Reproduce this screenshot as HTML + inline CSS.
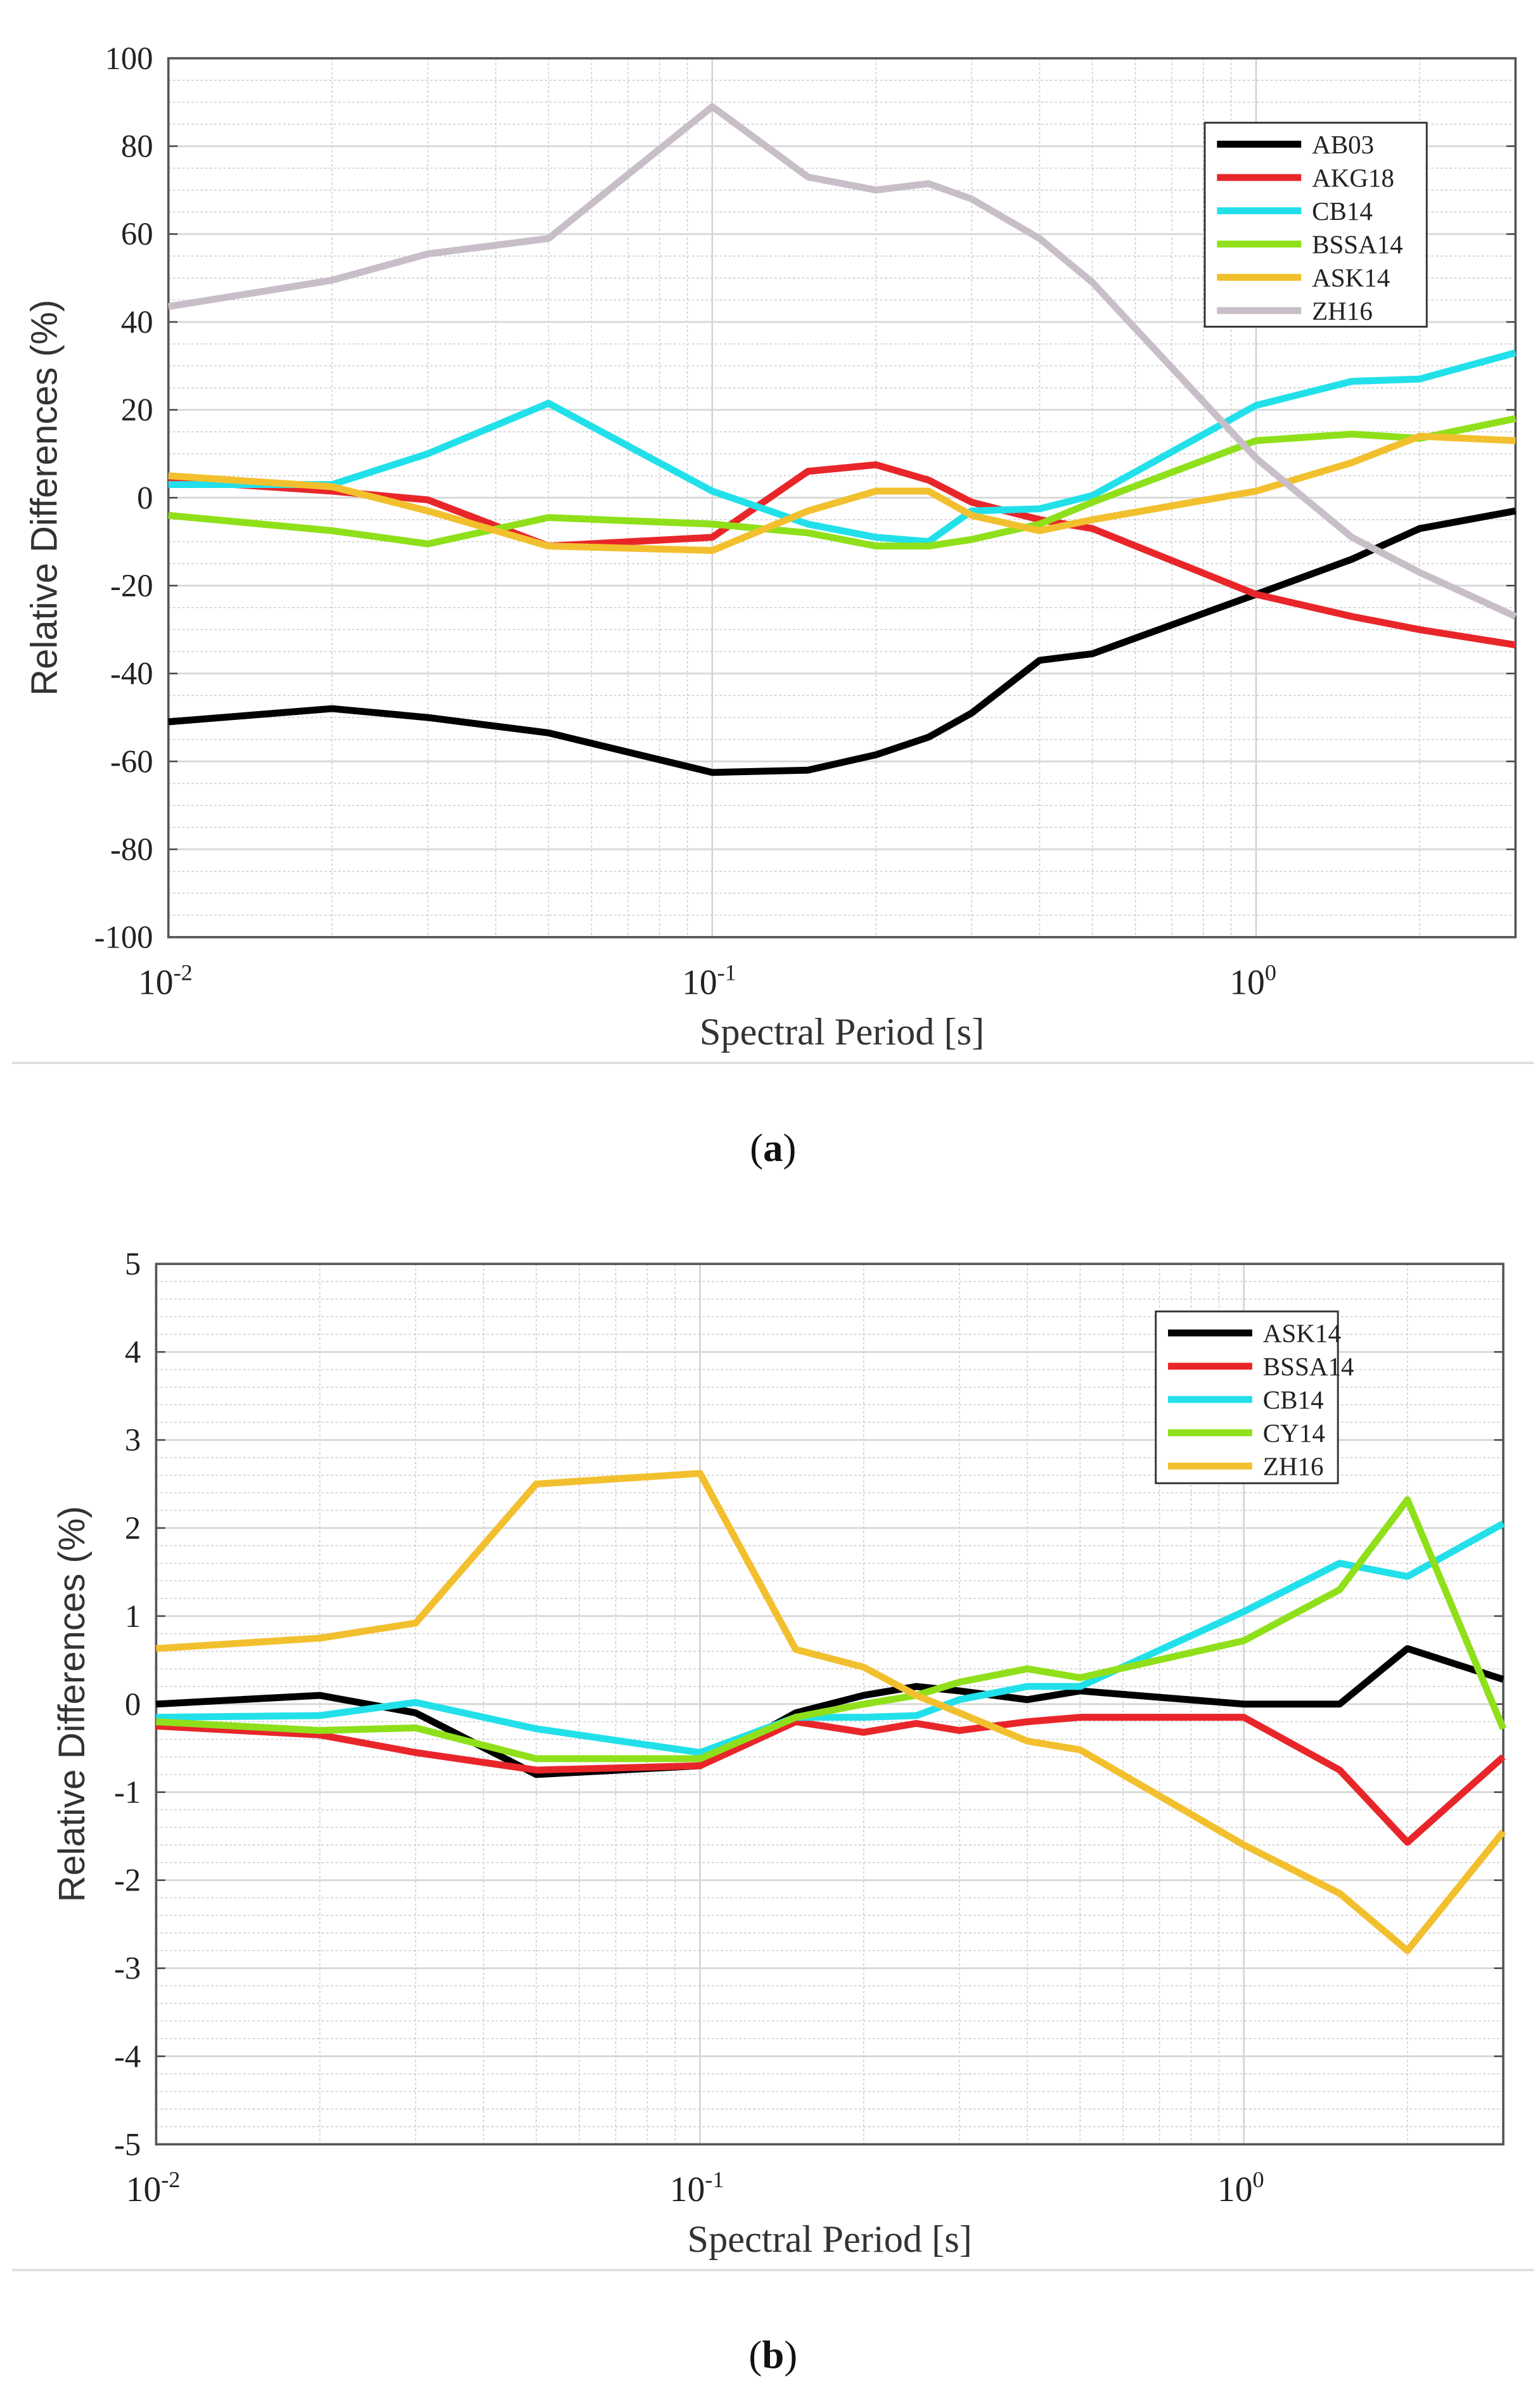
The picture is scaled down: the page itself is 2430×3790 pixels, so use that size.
<!DOCTYPE html>
<html><head><meta charset="utf-8"><style>
html,body{margin:0;padding:0;background:#fff}
svg{display:block}
</style></head><body>
<svg id="fig" width="2430" height="3790" viewBox="0 0 1006 1566" preserveAspectRatio="none" xmlns="http://www.w3.org/2000/svg"></svg>
<script>
const periods=[0.01,0.02,0.03,0.05,0.1,0.15,0.2,0.25,0.3,0.4,0.5,1,1.5,2,3];
const namesA=["AB03","AKG18","CB14","BSSA14","ASK14","ZH16"];
const ab03=[-51,-48,-50,-53.5,-62.5,-62,-58.5,-54.5,-49,-37,-35.5,-22,-14,-7,-3];
const akg18=[4,1.5,-0.5,-11,-9,6,7.5,4,-1,-5,-7,-22,-27,-30,-33.5];
const cb14a=[3,3,10,21.5,1.5,-6,-9,-10,-3,-2.5,0.5,21,26.5,27,33];
const bssa14a=[-4,-7.5,-10.5,-4.5,-6,-8,-11,-11,-9.5,-6,-1,13,14.5,13.5,18];
const ask14a=[5,2.5,-3,-11,-12,-3,1.5,1.5,-4,-7.5,-5,1.5,8,14,13];
const zh16a=[43.5,49.5,55.5,59,89,73,70,71.5,68,59,49,9,-9,-17,-27];
const namesB=["ASK14","BSSA14","CB14","CY14","ZH16"];
const ask14b=[0,0.1,-0.1,-0.8,-0.7,-0.1,0.1,0.2,0.15,0.05,0.15,0,0,0.63,0.28];
const bssa14b=[-0.25,-0.35,-0.55,-0.75,-0.7,-0.2,-0.32,-0.22,-0.3,-0.2,-0.15,-0.15,-0.75,-1.57,-0.6];
const cb14b=[-0.15,-0.13,0.02,-0.28,-0.55,-0.15,-0.15,-0.13,0.05,0.2,0.2,1.05,1.6,1.45,2.05];
const cy14b=[-0.2,-0.3,-0.27,-0.62,-0.62,-0.15,0,0.1,0.25,0.4,0.3,0.72,1.3,2.32,-0.28];
const zh16b=[0.63,0.75,0.92,2.5,2.62,0.62,0.42,0.1,-0.1,-0.42,-0.52,-1.6,-2.15,-2.8,-1.45];
const yTicksA=[100,80,60,40,20,0,-20,-40,-60,-80,-100];
const yTicksB=[5,4,3,2,1,0,-1,-2,-3,-4,-5];
const xExps=[-2,-1,0];

const NS="http://www.w3.org/2000/svg";
const svg=document.getElementById("fig");
function el(t,a,p){const e=document.createElementNS(NS,t);for(const k in a)e.setAttribute(k,a[k]);(p||svg).appendChild(e);return e;}

function panel(cfg){
  const g=el("g",{});
  
  
  const {L,R,T,B,ymin,ymax,ystep,ysub}=cfg;
  const xs=v=>L+(Math.log10(v)+2)*(R-L)/Math.log10(300);
  const ys=v=>B-(v-ymin)/(ymax-ymin)*(B-T);
  for(let v=ymin;v<=ymax+1e-9;v+=ysub){el("line",{x1:L,x2:R,y1:ys(v),y2:ys(v),stroke:"#c8c8c8","stroke-width":0.6,"stroke-dasharray":"1.5,1.5"},g);}
  for(let d=-2;d<=0;d++)for(let m=1;m<=9;m++){const v=m*Math.pow(10,d);if(v>3.0001)continue;
    el("line",{x1:xs(v),x2:xs(v),y1:T,y2:B,stroke:m==1?"#d0d0d0":"#c8c8c8","stroke-width":m==1?1:0.6,"stroke-dasharray":m==1?"":"1.5,1.5"},g);}
  cfg.yt.forEach(v=>{el("line",{x1:L,x2:R,y1:ys(v),y2:ys(v),stroke:"#d8d8d8","stroke-width":1.2},g);
    el("line",{x1:L,x2:L+6,y1:ys(v),y2:ys(v),stroke:"#444","stroke-width":1},g);
    el("line",{x1:R-6,x2:R,y1:ys(v),y2:ys(v),stroke:"#444","stroke-width":1},g);
    const t=el("text",{x:L-10,y:ys(v)+7,"text-anchor":"end","font-family":"Liberation Serif, serif","font-size":21,fill:"#222"},g);t.textContent=v;
    
    });
  xExps.forEach(e=>{const x=xs(Math.pow(10,e));
    const t=el("text",{x:x-2,y:cfg.xl,"text-anchor":"middle","font-family":"Liberation Serif, serif","font-size":23,fill:"#222"},g);
    
    
    const s1=el("tspan",{},t);s1.textContent="10";const s2=el("tspan",{dy:-9,"font-size":15},t);s2.textContent=e;});
  el("rect",{x:L,y:T,width:R-L,height:B-T,fill:"none",stroke:"#555","stroke-width":1.5},g);
  cfg.series.forEach((s,i)=>{const pts=periods.map((p,j)=>xs(p).toFixed(1)+","+ys(s[j]).toFixed(1)).join(" ");
    const pl=el("polyline",{points:pts,fill:"none",stroke:cfg.colors[i],"stroke-width":4.5,"stroke-linejoin":"round"},g);
    
    });
  const lg=el("g",{},g);
  
  
  const lb=cfg.leg;
  el("rect",{x:lb.x,y:lb.y,width:lb.w,height:lb.h,fill:"#fff",stroke:"#333","stroke-width":1.2},lg);
  cfg.names.forEach((n,i)=>{const y=lb.y+14+i*21.7;
    el("line",{x1:lb.x+8,x2:lb.x+63,y1:y,y2:y,stroke:cfg.colors[i],"stroke-width":4.5},lg);
    const t=el("text",{x:lb.x+70,y:y+6,"font-family":"Liberation Serif, serif","font-size":17,fill:"#222"},lg);t.textContent=n;
    
    });
  const yt=el("text",{x:0,y:0,transform:`translate(${cfg.ytx},${(T+B)/2}) rotate(-90)`,"text-anchor":"middle","font-family":"Liberation Sans, sans-serif","font-size":24,fill:"#333"},g);
  yt.textContent="Relative Differences (%)";
  
  
  const xt=el("text",{x:(L+R)/2,y:cfg.xtl,"text-anchor":"middle","font-family":"Liberation Serif, serif","font-size":25,fill:"#333"},g);
  xt.textContent="Spectral Period [s]";
  
  
  el("line",{x1:8,x2:1002,y1:cfg.sep,y2:cfg.sep,stroke:"#ddd","stroke-width":1.5},g);
  const cap=el("text",{x:505,y:cfg.cap,"text-anchor":"middle","font-family":"Liberation Serif, serif","font-size":26,fill:"#111"},g);
  
  
  const a=el("tspan",{},cap);a.textContent="(";const b=el("tspan",{"font-weight":"bold"},cap);b.textContent=cfg.letter;const c=el("tspan",{},cap);c.textContent=")";
}
const colA=["#000","#e8262a","#22e0ea","#8fe01a","#f2c02e","#c8bec8"];
const colB=["#000","#e8262a","#22e0ea","#8fe01a","#f2c02e"];
panel({id:"panel-a",L:110,R:990,T:38,B:611,ymin:-100,ymax:100,ystep:20,ysub:5,yt:yTicksA,xl:648,xtl:681,ytx:37,
  series:[ab03,akg18,cb14a,bssa14a,ask14a,zh16a],colors:colA,names:namesA,leg:{x:787,y:80,w:145,h:133},sep:693,cap:757,letter:"a"});
panel({id:"panel-b",L:102,R:982,T:824,B:1398,ymin:-5,ymax:5,ystep:1,ysub:0.2,yt:yTicksB,xl:1435,xtl:1468,ytx:55,
  series:[ask14b,bssa14b,cb14b,cy14b,zh16b],colors:colB,names:namesB,leg:{x:755,y:855,w:119,h:112},sep:1480,cap:1544,letter:"b"});
</script>
</body></html>
